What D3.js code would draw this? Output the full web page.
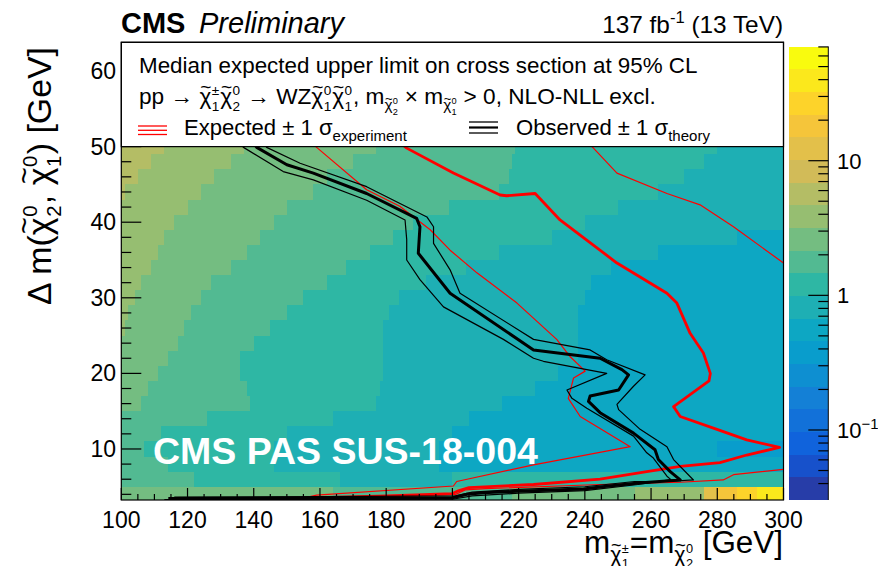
<!DOCTYPE html>
<html>
<head>
<meta charset="utf-8">
<script src="https://cdn.jsdelivr.net/npm/d3@7"></script>
<style>
  body { margin: 0; background: #fff; }
  text { font-family: "Liberation Sans", Arial, Helvetica, sans-serif; white-space: pre; }
</style>
</head>
<body>
<svg id="chart" width="878" height="566"></svg>
<script>
// ---------------- data ----------------
const massDomain = [100, 300];          // chargino / neutralino2 mass [GeV]
const dmDomain = [3.25, 63.8];          // mass splitting [GeV]
const zDomain = [0.0302, 70.5];         // upper limit on cross section [pb]
const nLevels = 20;

const xMajorTicks = [100, 120, 140, 160, 180, 200, 220, 240, 260, 280, 300];
const yMajorTicks = [10, 20, 30, 40, 50, 60];
const zMajorTicks = [0.1, 1, 10];
const zTickLabels = [["10", "\u22121"], ["1", null], ["10", null]];

// expected limit map: rows of Δm, each row a list of [mass where the run starts, limit]
const limitRows = [
  { lo: 3.25, hi: 5,  cells: [[100, 2.6], [164, 1.8], [218, 2.6], [255, 3.9], [276, 12], [280, 18], [286, 27], [292, 40]] },
  { lo: 5,  hi: 7,  cells: [[100, 1.8], [122, 1.2], [166, 0.82], [200, 1.2]] },
  { lo: 7,  hi: 9,  cells: [[100, 1.8], [114, 1.2], [146, 0.82], [196, 0.55]] },
  { lo: 9,  hi: 11, cells: [[100, 1.8], [107, 1.2], [146, 0.82], [196, 0.55], [280, 0.38]] },
  { lo: 11, hi: 13, cells: [[100, 1.8], [112, 1.2], [150, 0.82], [200, 0.55]] },
  { lo: 13, hi: 15, cells: [[100, 1.8], [126, 1.2], [164, 0.82], [205, 0.55]] },
  { lo: 15, hi: 17, cells: [[100, 2.6], [106, 1.8], [139, 1.2], [177, 0.82], [215, 0.55]] },
  { lo: 17, hi: 19, cells: [[100, 2.6], [108, 1.8], [138, 1.2], [178, 0.82], [225, 0.55]] },
  { lo: 19, hi: 21, cells: [[100, 2.6], [111, 1.8], [136, 1.2], [179, 0.82], [232, 0.55]] },
  { lo: 21, hi: 23, cells: [[100, 2.6], [114, 1.8], [136, 1.2], [179, 0.82], [238, 0.55]] },
  { lo: 23, hi: 25, cells: [[100, 2.6], [117, 1.8], [140, 1.2], [179, 0.82], [238, 0.55]] },
  { lo: 25, hi: 27, cells: [[100, 3.9], [101, 2.6], [119, 1.8], [145, 1.2], [179, 0.82], [238, 0.55]] },
  { lo: 27, hi: 29, cells: [[100, 3.9], [102, 2.6], [121, 1.8], [150, 1.2], [181, 0.82], [238, 0.55]] },
  { lo: 29, hi: 31, cells: [[100, 3.9], [104, 2.6], [124, 1.8], [155, 1.2], [184, 0.82], [240, 0.55]] },
  { lo: 31, hi: 33, cells: [[100, 3.9], [106, 2.6], [127, 1.8], [162, 1.2], [192, 0.82], [242, 0.55]] },
  { lo: 33, hi: 35, cells: [[100, 3.9], [109, 2.6], [133, 1.8], [168, 1.2], [204, 0.82], [248, 0.55]] },
  { lo: 35, hi: 37, cells: [[100, 3.9], [111, 2.6], [138, 1.8], [175, 1.2], [214, 0.82], [262, 0.55]] },
  { lo: 37, hi: 39, cells: [[100, 3.9], [113, 2.6], [142, 1.8], [182, 1.2], [230, 0.82], [286, 0.55]] },
  { lo: 39, hi: 41, cells: [[100, 3.9], [116, 2.6], [146, 1.8], [188, 1.2], [240, 0.82]] },
  { lo: 41, hi: 43, cells: [[100, 3.9], [120, 2.6], [150, 1.8], [199, 1.2], [250, 0.82]] },
  { lo: 43, hi: 45, cells: [[100, 5.7], [101, 3.9], [124, 2.6], [158, 1.8], [214, 1.2], [262, 0.82]] },
  { lo: 45, hi: 47, cells: [[100, 5.7], [105, 3.9], [128, 2.6], [162, 1.8], [217, 1.2], [270, 0.82]] },
  { lo: 47, hi: 49, cells: [[100, 5.7], [109, 3.9], [133, 2.6], [170, 1.8], [218, 1.2], [276, 0.82]] },
  { lo: 49, hi: 51, cells: [[100, 5.7], [113, 3.9], [137, 2.6], [177, 1.8], [219, 1.2], [280, 0.82]] }
];

// exclusion contours, [mass, Δm]
const observed = [[139, 51], [140.9, 49.9], [150.0, 47.6], [158.0, 46.5], [174.1, 43.8], [189.2, 40.5], [190.2, 39.4], [189.7, 35.9], [199.3, 30.6], [224.5, 23.1], [244.6, 22.0], [251.2, 20.5], [253.2, 19.8], [250.2, 17.8], [241.6, 17.0], [241.1, 16.3], [244.6, 14.8], [254.7, 12.1], [261.2, 9.9], [262.2, 8.6], [265.8, 7.0], [268.8, 5.9], [256.3, 5.5], [246.6, 5.06], [239.6, 4.7], [219.5, 4.4], [209.4, 4.2], [204.4, 4.0], [200, 3.55], [160, 3.5], [114.2, 3.45]];
const observedUp = [[142, 51], [143.9, 49.9], [154.0, 47.8], [174.1, 44.7], [192.3, 40.7], [194.3, 39.4], [194.3, 37.2], [199.3, 33.7], [202.3, 30.6], [224.5, 24.5], [241.6, 23.1], [246.6, 21.8], [258.2, 19.8], [254.7, 18.3], [249.7, 15.9], [250.2, 15.2], [256.7, 12.6], [264.8, 10.3], [266.8, 8.6], [272.8, 5.9], [264.8, 5.7], [255, 5.7], [240, 5.0], [220, 4.65], [206, 4.3], [201, 3.8], [160, 3.7], [116, 3.65]];
const observedDown = [[134, 51], [136.9, 49.9], [148.9, 46.7], [158.0, 45.6], [174.1, 42.9], [185.7, 40.3], [186.2, 37.7], [186.2, 35.0], [190.2, 32.4], [197.3, 28.8], [215.4, 24.5], [224.5, 22.0], [227.5, 21.6], [246.6, 20.0], [234.6, 17.8], [236.1, 16.7], [240.6, 15.4], [254.7, 11.7], [258.7, 9.5], [260.7, 8.8], [264.8, 6.4], [266, 5.95], [256, 5.3], [240, 4.5], [220, 4.15], [206, 3.8], [200, 3.35], [160, 3.3], [113, 3.3]];
const expected = [[183, 51], [186.2, 49.8], [200.3, 46.5], [214.4, 43.6], [216.4, 43.5], [225, 43.8], [232.5, 40.3], [249.7, 34.6], [264.8, 30.6], [267.8, 29.3], [271.8, 25.3], [275.8, 22.7], [277.9, 20.0], [277.5, 19.0], [266.8, 15.6], [268.8, 14.3], [279.9, 12.6], [288.9, 11.2], [298.8, 10.2], [288.9, 9.2], [280.8, 8.2], [268.8, 7.7], [258.7, 7.0], [244.6, 6.0], [224.5, 5.3], [205, 4.9], [202, 4.5], [200, 4.1], [180, 3.8], [160, 3.55], [155, 3.45]];
const expectedDown = [[156, 51], [159, 49.9], [174.1, 44.3], [184.1, 42.1], [193.3, 39.0], [199.3, 36.3], [207.4, 33.3], [219.5, 29.3], [231.5, 24.5], [235.6, 22.2], [240.1, 20.3], [236.6, 19.4], [235.0, 16.7], [238.6, 14.3], [253.7, 10.3], [224.5, 7.9], [201.3, 5.7], [200.3, 5.1], [159, 3.9], [156, 3.6]];
const expectedUp = [[240, 51], [242.6, 49.8], [249.7, 46.5], [264.8, 43.8], [274.8, 42.3], [284.9, 39.4], [300, 34.6], [302, 34.0], [302, 7.4], [300, 7.3], [284.9, 6.6], [281.8, 5.9], [268.8, 5.6], [244.6, 5.3], [210, 4.75], [204, 4.6], [201, 4.0], [180, 3.7], [160, 3.45], [157, 3.35]];

// ---------------- layout ----------------
const svg = d3.select("#chart");
const P = { left: 121.3, right: 783.5, top: 42.3, bottom: 500 };
const x = d3.scaleLinear().domain(massDomain).range([P.left, P.right]);
const y = d3.scaleLinear().domain(dmDomain).range([P.bottom, P.top]);
const z = d3.scaleLog().domain(zDomain).range([500, 46.5]);

// ROOT "bird" palette, sampled like a 20-level COLZ
const birdStops = [0, 0.125, 0.25, 0.375, 0.5, 0.625, 0.75, 0.875, 1];
const birdRGB = [[0.2082, 0.1664, 0.5293], [0.0592, 0.3599, 0.8684], [0.0780, 0.5041, 0.8385], [0.0232, 0.6419, 0.7914], [0.1802, 0.7178, 0.6425], [0.5301, 0.7492, 0.4662], [0.8186, 0.7328, 0.3499], [0.9956, 0.7862, 0.1968], [0.9764, 0.9832, 0.0539]];
const bird = d3.scaleLinear().domain(birdStops)
  .range(birdRGB.map(c => d3.rgb(c[0] * 255, c[1] * 255, c[2] * 255).toString()))
  .interpolate(d3.interpolateRgb);
const bandColors = d3.range(nLevels).map(i => bird(Math.floor((i + 0.99) * 255 / nLevels) / 254));
const logZ = [Math.log10(zDomain[0]), Math.log10(zDomain[1])];
const color = d3.scaleQuantize().domain(logZ).range(bandColors);

// ---------------- heat map ----------------
const heat = svg.append("g").attr("shape-rendering", "crispEdges");
limitRows.forEach(row => {
  row.cells.forEach((c, i) => {
    const m0 = c[0];
    const m1 = i + 1 < row.cells.length ? row.cells[i + 1][0] : massDomain[1];
    const lo = Math.max(row.lo, dmDomain[0]);
    heat.append("rect")
      .attr("x", x(m0)).attr("width", x(m1) - x(m0))
      .attr("y", y(row.hi)).attr("height", y(lo) - y(row.hi))
      .attr("fill", color(Math.log10(c[1])));
  });
});

// ---------------- contours ----------------
svg.append("clipPath").attr("id", "plotClip").append("rect")
  .attr("x", P.left).attr("y", P.top).attr("width", P.right - P.left).attr("height", P.bottom - P.top);
const lineGen = d3.line().x(d => x(d[0])).y(d => y(d[1]));
const curves = svg.append("g").attr("clip-path", "url(#plotClip)").attr("fill", "none").attr("stroke-linejoin", "round");
[[expectedDown, "#ff0000", 1.2], [expectedUp, "#ff0000", 1.2], [expected, "#ff0000", 2.8],
 [observedDown, "#000", 1.2], [observedUp, "#000", 1.2], [observed, "#000", 3]].forEach(([d, c, w]) => {
  curves.append("path").attr("d", lineGen(d)).attr("stroke", c).attr("stroke-width", w);
});

// ---------------- axes ----------------
const axes = svg.append("g").attr("stroke", "#000");
const xMinor = d3.range(100, 300.1, 5).filter(v => !xMajorTicks.includes(v));
const yMinor = d3.range(4, 63.8, 2).filter(v => !yMajorTicks.includes(v));
xMajorTicks.forEach(v => axes.append("line").attr("x1", x(v)).attr("x2", x(v)).attr("y1", P.bottom).attr("y2", P.bottom - 12).attr("stroke-width", 1.2));
xMinor.forEach(v => axes.append("line").attr("x1", x(v)).attr("x2", x(v)).attr("y1", P.bottom).attr("y2", P.bottom - 6).attr("stroke-width", 1.2));
yMajorTicks.forEach(v => axes.append("line").attr("x1", P.left).attr("x2", P.left + 20).attr("y1", y(v)).attr("y2", y(v)).attr("stroke-width", 1.2));
yMinor.forEach(v => axes.append("line").attr("x1", P.left).attr("x2", P.left + 10).attr("y1", y(v)).attr("y2", y(v)).attr("stroke-width", 1.2));

xMajorTicks.forEach(v => svg.append("text").attr("x", x(v)).attr("y", 528).attr("text-anchor", "middle").attr("font-size", 23).text(v));
yMajorTicks.forEach(v => svg.append("text").attr("x", 116).attr("y", y(v) + 8).attr("text-anchor", "end").attr("font-size", 23).text(v));

// ---------------- legend box ----------------
svg.append("rect").attr("x", P.left).attr("y", P.top).attr("width", P.right - P.left).attr("height", y(50) - P.top)
  .attr("fill", "#fff").attr("stroke", "#000").attr("stroke-width", 1.2);
svg.append("rect").attr("x", P.left).attr("y", P.top).attr("width", P.right - P.left).attr("height", P.bottom - P.top)
  .attr("fill", "none").attr("stroke", "#000").attr("stroke-width", 1.2);

// ---------------- rich text helper ----------------
// lays out plain runs, tilde-chi symbols with stacked scripts, and sub/superscript groups;
// an optional width makes the whole string scale to that length
function rich(parent, tokens, size, opts = {}) {
  const g = parent.append("g");
  function put(str, px, py, s) {
    const t = g.append("text").attr("x", px).attr("y", py).attr("font-size", s).text(str);
    return t.node().getComputedTextLength();
  }
  function lay(toks, px, py, s) {
    let cx = px;
    toks.forEach(tk => {
      if (typeof tk === "string") {
        cx += put(tk, cx, py, s);
      } else if (tk.chi) {
        const w = put("\u03C7", cx, py, s);
        g.append("text").attr("x", cx + w * 0.55).attr("y", py - s * 0.5).attr("font-size", s * 0.85)
          .attr("text-anchor", "middle").text("~");
        let ws = 0;
        if (tk.sup) ws = Math.max(ws, put(tk.sup, cx + w + s * 0.02, py - s * 0.42, s * 0.6));
        if (tk.sub) ws = Math.max(ws, put(tk.sub, cx + w + s * 0.02, py + s * 0.3, s * 0.6));
        cx += w + ws + s * 0.06;
      } else if (tk.sub) {
        cx += lay(tk.sub, cx, py + s * 0.28, s * 0.68);
      } else if (tk.sup) {
        cx += lay(tk.sup, cx, py - s * 0.42, s * 0.68);
      }
    });
    return cx - px;
  }
  let w = lay(tokens, 0, 0, size);
  if (opts.width) {
    g.selectAll("*").remove();
    w = lay(tokens, 0, 0, size * opts.width / w);
  }
  if (opts.anchor === "end") g.selectAll("text").attr("x", function () { return +d3.select(this).attr("x") - w; });
  return g;
}

const chi = (sup, sub) => ({ chi: true, sup, sub });

// header
svg.append("text").attr("x", 121).attr("y", 33).attr("font-size", 29).attr("font-weight", "bold").text("CMS");
svg.append("text").attr("x", 199).attr("y", 33).attr("font-size", 29).attr("font-style", "italic").text("Preliminary");
rich(svg.append("g").attr("transform", "translate(783,33)"), ["137 fb", { sup: ["-1"] }, " (13 TeV)"], 23.5, { anchor: "end", width: 181 });

// legend text
rich(svg.append("g").attr("transform", "translate(139,73)"), ["Median expected upper limit on cross section at 95% CL"], 22, { width: 559 });
rich(svg.append("g").attr("transform", "translate(139,104)"),
  ["pp \u2192 ", chi("\u00B1", "1"), chi("0", "2"), " \u2192 WZ", chi("0", "1"), chi("0", "1"),
   ", m", { sub: [chi("0", "2")] }, " \u00D7 m", { sub: [chi("0", "1")] }, " > 0, NLO-NLL excl."], 22, { width: 517 });
const leg = svg.append("g");
[126, 130.3, 134.5].forEach(ly =>
  leg.append("line").attr("x1", 138).attr("x2", 167).attr("y1", ly).attr("y2", ly).attr("stroke", "#ff0000").attr("stroke-width", 1.3));
[[122, 1.3], [127.5, 2.2], [133, 1.3]].forEach(([ly, w]) =>
  leg.append("line").attr("x1", 469).attr("x2", 498).attr("y1", ly).attr("y2", ly).attr("stroke", "#000").attr("stroke-width", w));
rich(svg.append("g").attr("transform", "translate(184,135)"), ["Expected \u00B1 1 \u03C3", { sub: ["experiment"] }], 22, { width: 223 });
rich(svg.append("g").attr("transform", "translate(516,135)"), ["Observed \u00B1 1 \u03C3", { sub: ["theory"] }], 22, { width: 194 });

// axis titles
rich(svg.append("g").attr("transform", "translate(783,553)"),
  ["m", { sub: [chi("\u00B1", "1")] }, "=m", { sub: [chi("0", "2")] }, " [GeV]"], 26, { anchor: "end", width: 199 });
rich(svg.append("g").attr("transform", "translate(51,47) rotate(-90)"),
  ["\u0394 m(", chi("0", "2"), ", ", chi("0", "1"), ") [GeV]"], 26, { anchor: "end", width: 258 });

// stamp
rich(svg.append("g").attr("transform", "translate(153,464)").attr("fill", "#fff").attr("font-weight", "bold"),
  ["CMS PAS SUS-18-004"], 37, { width: 385 });

// ---------------- colour bar ----------------
const cb = { x0: 789.3, x1: 828.3 };
const bandEdges = d3.range(nLevels + 1).map(i => logZ[0] + i * (logZ[1] - logZ[0]) / nLevels);
const cbar = svg.append("g").attr("shape-rendering", "crispEdges");
d3.range(nLevels).forEach(i => {
  const top = z(Math.pow(10, bandEdges[i + 1])), bot = z(Math.pow(10, bandEdges[i]));
  cbar.append("rect").attr("x", cb.x0).attr("width", cb.x1 - cb.x0).attr("y", top).attr("height", bot - top).attr("fill", bandColors[i]);
});
const zMinor = [];
[0.01, 0.1, 1, 10].forEach(d => d3.range(2, 10).forEach(k => { const v = d * k; if (v > zDomain[0] && v < zDomain[1]) zMinor.push(v); }));
zMajorTicks.forEach(v => svg.append("line").attr("x1", cb.x1).attr("x2", cb.x1 - 20).attr("y1", z(v)).attr("y2", z(v)).attr("stroke", "#000").attr("stroke-width", 1.2));
zMinor.forEach(v => svg.append("line").attr("x1", cb.x1).attr("x2", cb.x1 - 10).attr("y1", z(v)).attr("y2", z(v)).attr("stroke", "#000").attr("stroke-width", 1.2));
svg.append("line").attr("x1", cb.x1).attr("x2", cb.x1).attr("y1", 46.5).attr("y2", 500).attr("stroke", "#000").attr("stroke-width", 1);
zMajorTicks.forEach((v, i) => {
  const [base, ex] = zTickLabels[i];
  rich(svg.append("g").attr("transform", `translate(837,${z(v) + 8})`), ex ? [base, { sup: [ex] }] : [base], 22);
});
</script>
</body>
</html>
